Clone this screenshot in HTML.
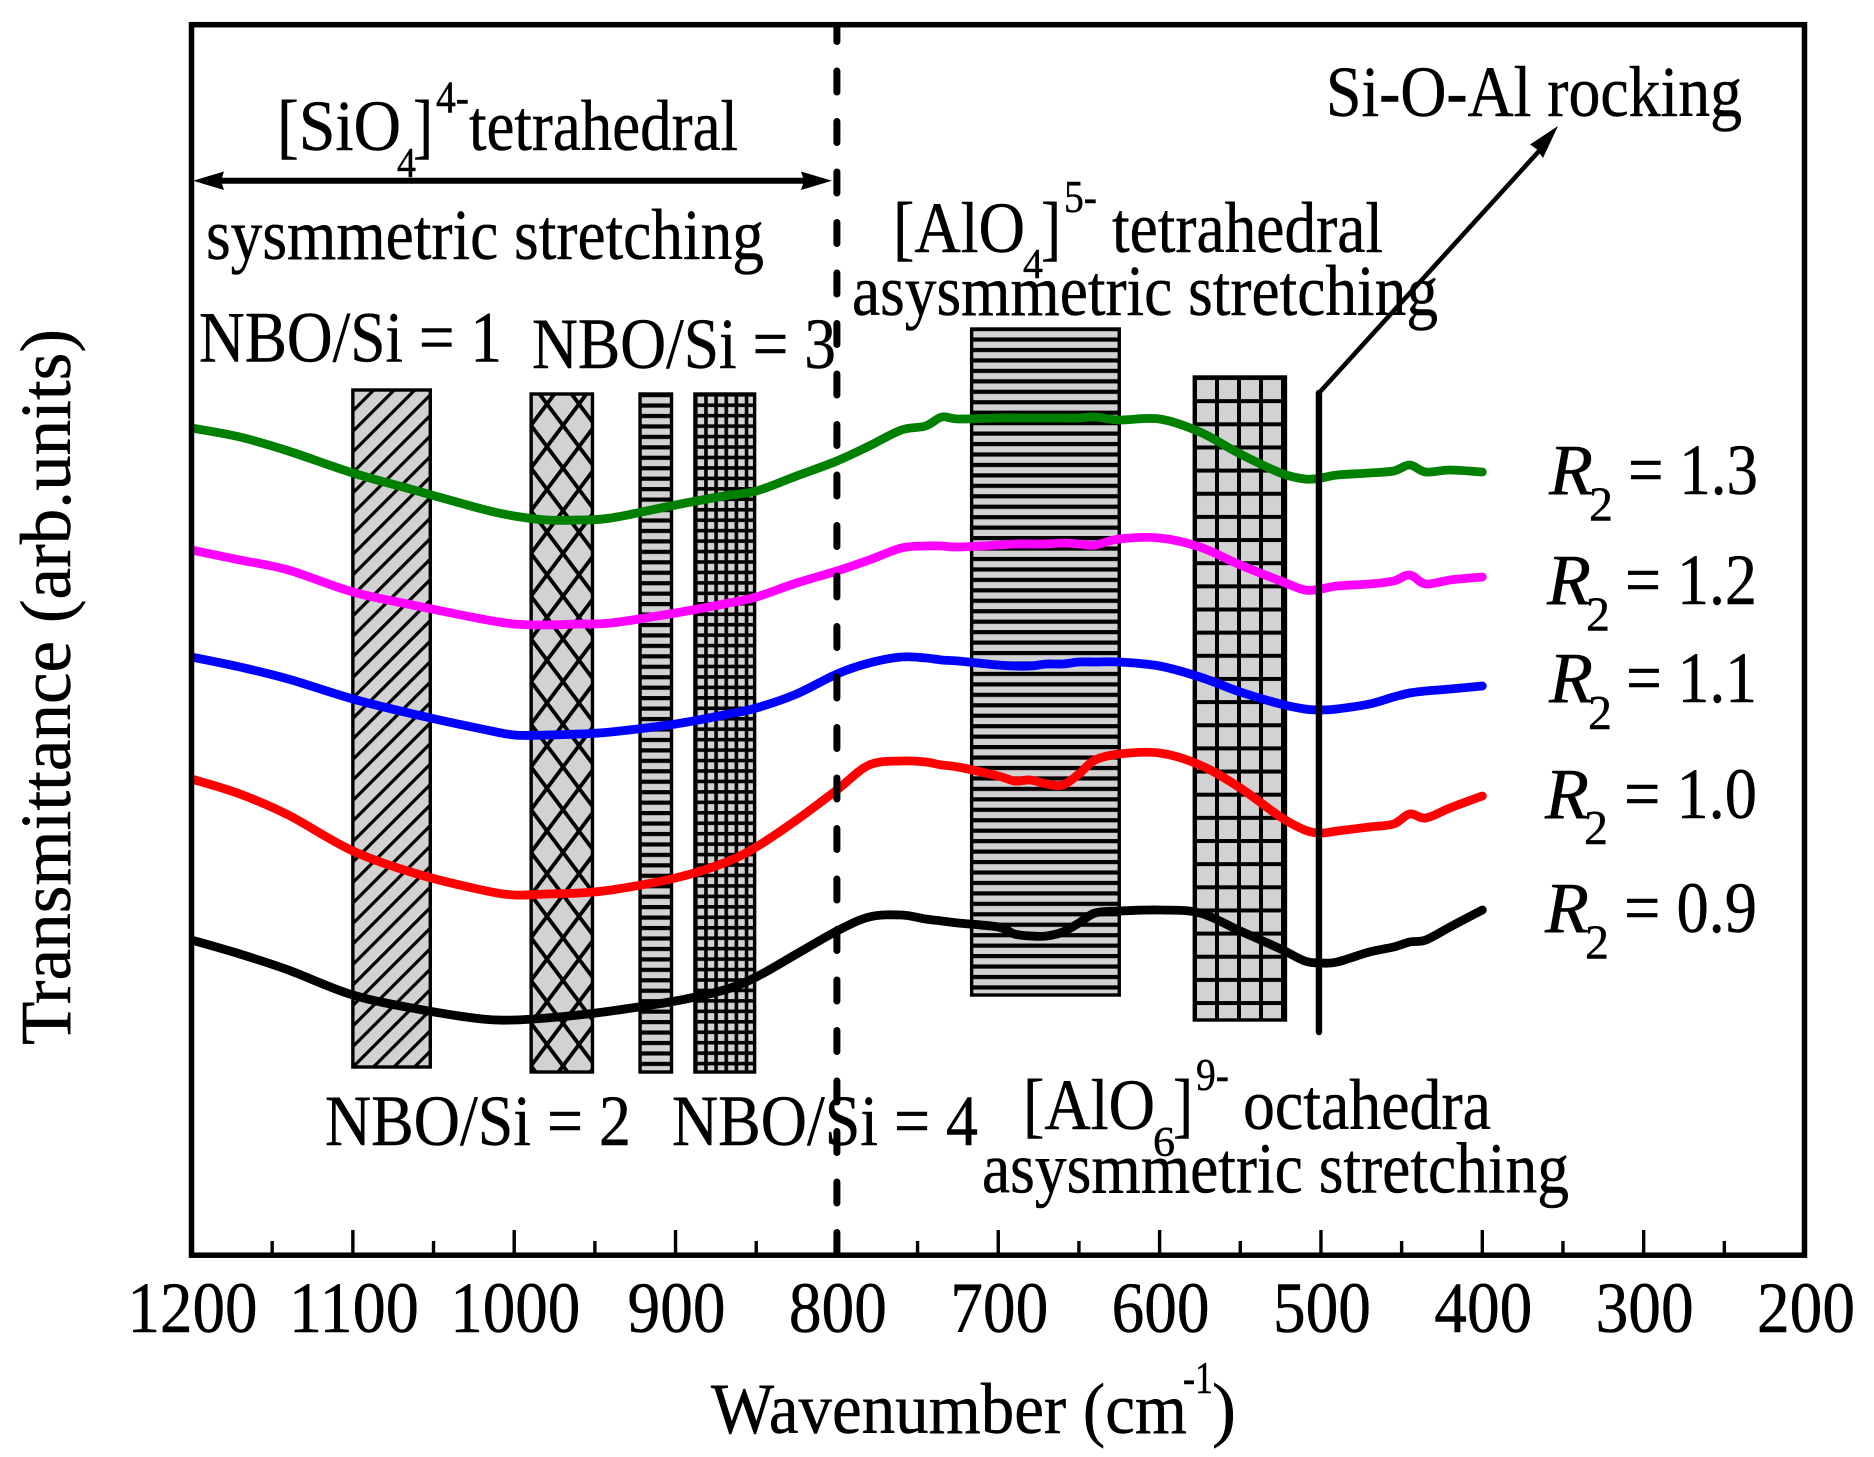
<!DOCTYPE html>
<html lang="en">
<head>
<meta charset="utf-8">
<title>FTIR transmittance spectra</title>
<style>
html,body{margin:0;padding:0;background:#fff;}
svg{display:block;}
text{font-family:"Liberation Serif","Times New Roman",serif;fill:#000;stroke:#000;stroke-width:0.45px;}
.t72{font-size:72px;}
.s40{font-size:42px;}
.s46{font-size:46px;}
.s48{font-size:49px;}
.it{font-style:italic;}
</style>
</head>
<body>
<svg id="chart" xmlns="http://www.w3.org/2000/svg" width="1874" height="1457" viewBox="0 0 1874 1457">
  <defs>
    <pattern id="p-diag" patternUnits="userSpaceOnUse" width="14.5" height="14.5" patternTransform="translate(352 389) rotate(45)">
      <rect width="14.5" height="14.5" fill="#d2d2d2"/>
      <rect x="0" y="0" width="3.2" height="14.5" fill="#000"/>
    </pattern>
    <pattern id="p-cross" patternUnits="userSpaceOnUse" x="547" y="404" width="32" height="42.7">
      <rect width="32" height="42.7" fill="#d2d2d2"/>
      <path d="M0 0L32 42.7M32 0L0 42.7" stroke="#000" stroke-width="3.8" fill="none"/>
    </pattern>
    <pattern id="p-hline-a" patternUnits="userSpaceOnUse" x="0" y="393" width="20" height="10.45">
      <rect width="20" height="10.45" fill="#d2d2d2"/>
      <rect y="0" width="20" height="4.2" fill="#000"/>
    </pattern>
    <pattern id="p-hline-b" patternUnits="userSpaceOnUse" x="0" y="327" width="20" height="10.45">
      <rect width="20" height="10.45" fill="#d2d2d2"/>
      <rect y="0" width="20" height="4.2" fill="#000"/>
    </pattern>
    <pattern id="p-fine" patternUnits="userSpaceOnUse" x="694" y="393" width="10.15" height="10.45">
      <rect width="10.15" height="10.45" fill="#d2d2d2"/>
      <rect width="10.15" height="3.6" fill="#000"/>
      <rect width="3.6" height="10.45" fill="#000"/>
    </pattern>
    <pattern id="p-grid" patternUnits="userSpaceOnUse" x="1193" y="376" width="22" height="23.15">
      <rect width="22" height="23.15" fill="#d2d2d2"/>
      <rect width="22" height="4" fill="#000"/>
      <rect width="4" height="23.15" fill="#000"/>
    </pattern>
    <clipPath id="plot-clip"><rect x="191.5" y="24.7" width="1613" height="1230.5"/></clipPath>
  </defs>

  <rect width="1874" height="1457" fill="#fff"/>
  <g id="bands"></g>
  <g id="curves" clip-path="url(#plot-clip)"></g>
  <g id="refs"></g>

  <polygon points="1558,126 1530,144.5 1536.5,149 1543,158" fill="#000"/>
  <g>
    <line x1="215" y1="180.7" x2="812" y2="180.7" stroke="#000" stroke-width="6"/>
    <polygon points="193,180.7 224,171.5 221,180.7 224,190" fill="#000"/>
    <polygon points="832,180.7 801,171.5 804,180.7 801,190" fill="#000"/>
  </g>

  <g>
    <text class="t72" x="277" y="150" textLength="124" lengthAdjust="spacingAndGlyphs">[SiO</text>
    <text class="s40" x="397" y="177" textLength="19" lengthAdjust="spacingAndGlyphs">4</text>
    <text class="t72" x="413" y="150" textLength="20" lengthAdjust="spacingAndGlyphs">]</text>
    <text class="s46" x="436" y="112.5" textLength="33" lengthAdjust="spacingAndGlyphs">4-</text>
    <text class="t72" x="469" y="150" textLength="269" lengthAdjust="spacingAndGlyphs">tetrahedral</text>
    <text class="t72" x="206" y="259" textLength="558" lengthAdjust="spacingAndGlyphs">sysmmetric stretching</text>
  </g>
  <text class="t72" x="199" y="361.5" textLength="303" lengthAdjust="spacingAndGlyphs">NBO/Si = 1</text>
  <text class="t72" x="532" y="368" textLength="304" lengthAdjust="spacingAndGlyphs">NBO/Si = 3</text>
  <text class="t72" x="325" y="1145" textLength="306" lengthAdjust="spacingAndGlyphs">NBO/Si = 2</text>
  <text class="t72" x="672" y="1145" textLength="306" lengthAdjust="spacingAndGlyphs">NBO/Si = 4</text>

  <g>
    <text class="t72" x="893" y="252" textLength="132" lengthAdjust="spacingAndGlyphs">[AlO</text>
    <text class="s40" x="1023" y="278" textLength="20" lengthAdjust="spacingAndGlyphs">4</text>
    <text class="t72" x="1041" y="252" textLength="20" lengthAdjust="spacingAndGlyphs">]</text>
    <text class="s46" x="1064" y="212" textLength="33" lengthAdjust="spacingAndGlyphs">5-</text>
    <text class="t72" x="1112" y="252" textLength="271" lengthAdjust="spacingAndGlyphs">tetrahedral</text>
    <text class="t72" x="852" y="315" textLength="586" lengthAdjust="spacingAndGlyphs">asysmmetric stretching</text>
  </g>
  <text class="t72" x="1326" y="116" textLength="416" lengthAdjust="spacingAndGlyphs">Si-O-Al rocking</text>
  <g>
    <text class="t72" x="1023" y="1129" textLength="132" lengthAdjust="spacingAndGlyphs">[AlO</text>
    <text class="s40" x="1153" y="1156" textLength="22" lengthAdjust="spacingAndGlyphs">6</text>
    <text class="t72" x="1173" y="1129" textLength="20" lengthAdjust="spacingAndGlyphs">]</text>
    <text class="s46" x="1196" y="1090" textLength="33" lengthAdjust="spacingAndGlyphs">9-</text>
    <text class="t72" x="1243" y="1129" textLength="248" lengthAdjust="spacingAndGlyphs">octahedra</text>
    <text class="t72" x="982" y="1192.5" textLength="587" lengthAdjust="spacingAndGlyphs">asysmmetric stretching</text>
  </g>

  <g>
    <text class="t72 it" x="1549" y="494" textLength="44" lengthAdjust="spacingAndGlyphs">R</text>
    <text class="s48" x="1589" y="520.5" textLength="24" lengthAdjust="spacingAndGlyphs">2</text>
    <text class="t72" x="1628" y="494" textLength="130" lengthAdjust="spacingAndGlyphs">= 1.3</text>
  </g>
  <g>
    <text class="t72 it" x="1547" y="604" textLength="44" lengthAdjust="spacingAndGlyphs">R</text>
    <text class="s48" x="1586" y="630.5" textLength="24" lengthAdjust="spacingAndGlyphs">2</text>
    <text class="t72" x="1625" y="604" textLength="132" lengthAdjust="spacingAndGlyphs">= 1.2</text>
  </g>
  <g>
    <text class="t72 it" x="1549" y="702" textLength="44" lengthAdjust="spacingAndGlyphs">R</text>
    <text class="s48" x="1588" y="729" textLength="24" lengthAdjust="spacingAndGlyphs">2</text>
    <text class="t72" x="1626" y="702" textLength="131" lengthAdjust="spacingAndGlyphs">= 1.1</text>
  </g>
  <g>
    <text class="t72 it" x="1545" y="818" textLength="44" lengthAdjust="spacingAndGlyphs">R</text>
    <text class="s48" x="1584" y="844" textLength="24" lengthAdjust="spacingAndGlyphs">2</text>
    <text class="t72" x="1624" y="818" textLength="133" lengthAdjust="spacingAndGlyphs">= 1.0</text>
  </g>
  <g>
    <text class="t72 it" x="1545" y="932" textLength="44" lengthAdjust="spacingAndGlyphs">R</text>
    <text class="s48" x="1585" y="958.5" textLength="24" lengthAdjust="spacingAndGlyphs">2</text>
    <text class="t72" x="1624" y="932" textLength="133" lengthAdjust="spacingAndGlyphs">= 0.9</text>
  </g>

  <g id="axis"></g>
  <rect x="191.5" y="24.7" width="1613" height="1230.5" fill="none" stroke="#000" stroke-width="5.5"/>

  <g>
    <text class="t72" x="711" y="1433" textLength="476" lengthAdjust="spacingAndGlyphs">Wavenumber (cm</text>
    <text class="s46" x="1183" y="1393" textLength="30" lengthAdjust="spacingAndGlyphs">-1</text>
    <text class="t72" x="1212" y="1433" textLength="24" lengthAdjust="spacingAndGlyphs">)</text>
  </g>
  <text class="t72" transform="translate(70 1045) rotate(-90)" x="0" y="0" textLength="716" lengthAdjust="spacingAndGlyphs">Transmittance (arb.units)</text>
</svg>

<script>
// ---- data ----
const wavenumbers = [1200,1170,1140,1100,1060,1020,1000,980,960,940,900,870,850,825,800,780,760,745,735,725,700,690,680,670,660,650,640,625,600,575,550,525,510,500,490,470,455,445,435,420,400];
const seriesR13 = [82.7,81.8,80.4,78.2,76.4,74.6,73.9,73.5,73.5,73.7,75.0,75.9,76.4,77.9,79.4,80.9,82.5,82.9,83.8,83.6,83.7,83.7,83.7,83.7,83.7,83.7,83.8,83.5,83.6,82.3,80.1,78.2,77.6,77.7,78.0,78.2,78.4,79.0,78.3,78.5,78.3];
const seriesR12 = [70.5,69.5,68.5,66.3,64.9,63.6,63.1,63.0,63.1,63.2,64.2,65.1,65.8,67.2,68.4,69.5,70.7,70.9,70.9,70.8,71.0,71.1,71.1,71.1,71.2,71.1,71.0,71.6,71.7,70.8,69.0,67.4,66.5,66.6,66.9,67.1,67.4,68.0,67.1,67.5,67.8];
const seriesR11 = [59.8,58.8,57.6,55.6,54.0,52.6,52.0,52.0,52.1,52.3,53.1,54.0,54.7,56.1,58.1,59.2,59.8,59.7,59.5,59.4,59.0,58.9,58.9,59.1,59.1,59.3,59.3,59.3,58.9,57.8,56.3,55.1,54.6,54.5,54.6,55.1,55.8,56.2,56.4,56.6,56.9];
const seriesR10 = [47.6,46.1,44.0,40.4,38.1,36.5,36.0,36.1,36.2,36.5,37.7,39.2,40.8,43.5,46.5,49.0,49.4,49.3,49.0,48.8,47.9,47.4,47.5,47.1,47.0,48.1,49.5,50.1,50.2,49.0,46.7,43.8,42.5,42.2,42.4,42.8,43.1,44.1,43.7,44.7,45.9];
const seriesR09 = [31.5,30.1,28.5,26.0,24.6,23.6,23.5,23.7,24.0,24.4,25.4,26.5,27.8,30.1,32.4,33.8,34.0,33.6,33.4,33.2,32.8,32.1,31.9,31.9,32.3,33.2,34.2,34.4,34.5,34.2,32.4,30.6,29.4,29.2,29.3,30.3,30.8,31.3,31.5,32.8,34.5];
const seriesNames = ["r2-0-9","r2-1-0","r2-1-1","r2-1-2","r2-1-3"];
const seriesColors = ["#000000","#ff0000","#0000ff","#ff00ff","#008000"];
const majorTicks = [1200,1100,1000,900,800,700,600,500,400,300,200];
const minorTicks = [1150,1050,950,850,750,650,550,450,350,250];
const tickLabels = ["1200","1100","1000","900","800","700","600","500","400","300","200"];
// assignment bands: high wavenumber, low wavenumber, top and bottom on the transmittance scale
const bandNames = ["nbo-si-1-band","nbo-si-2-band","nbo-si-3-band","nbo-si-4-band","alo4-band","alo6-band"];
const bandHigh = [1100,989.5,922,888,716.5,578.5];
const bandLow = [1052,951.5,902.5,851,625,522];
const bandTop = [86.5,86.1,86.1,86.1,92.6,87.8];
const bandBottom = [18.8,18.3,18.3,18.3,26.0,23.5];
const bandFills = ["p-diag","p-cross","p-hline-a","p-fine","p-hline-b","p-grid"];
const dividerWavenumber = 800;
const rockingWavenumber = 500;

// ---- axis functions ----
const NS = "http://www.w3.org/2000/svg";
const xOf = w => 191.5 + (1200 - w) * 1.6135;
const yOf = t => 1255 - t * 10;

function smoothPath(xs, ys) {
  let d = "M" + xs[0].toFixed(1) + " " + ys[0].toFixed(1);
  for (let i = 0; i < xs.length - 1; i++) {
    const a = Math.max(i - 1, 0), b = Math.min(i + 2, xs.length - 1);
    const c1x = xs[i] + (xs[i + 1] - xs[a]) / 6, c1y = ys[i] + (ys[i + 1] - ys[a]) / 6;
    const c2x = xs[i + 1] - (xs[b] - xs[i]) / 6, c2y = ys[i + 1] - (ys[b] - ys[i]) / 6;
    d += "C" + c1x.toFixed(1) + " " + c1y.toFixed(1) + " " + c2x.toFixed(1) + " " + c2y.toFixed(1) + " " + xs[i + 1].toFixed(1) + " " + ys[i + 1].toFixed(1);
  }
  return d;
}

// bands
const bandsG = document.getElementById("bands");
bandNames.forEach((name, i) => {
  const el = document.createElementNS(NS, "rect");
  
  
  el.setAttribute("x", xOf(bandHigh[i]));
  el.setAttribute("y", yOf(bandTop[i]));
  el.setAttribute("width", xOf(bandLow[i]) - xOf(bandHigh[i]));
  el.setAttribute("height", yOf(bandBottom[i]) - yOf(bandTop[i]));
  el.setAttribute("fill", "url(#" + bandFills[i] + ")");
  el.setAttribute("stroke", "#000");
  el.setAttribute("stroke-width", "3.4");
  bandsG.appendChild(el);
});

// series
const allSeries = [seriesR09, seriesR10, seriesR11, seriesR12, seriesR13];
const curvesG = document.getElementById("curves");
allSeries.forEach((vals, i) => {
  const el = document.createElementNS(NS, "path");
  
  
  el.setAttribute("d", smoothPath(wavenumbers.map(xOf), vals.map(yOf)));
  el.setAttribute("fill", "none");
  el.setAttribute("stroke", seriesColors[i]);
  el.setAttribute("stroke-width", "8.8");
  el.setAttribute("stroke-linecap", "round");
  el.setAttribute("stroke-linejoin", "round");
  curvesG.appendChild(el);
});

// reference lines
const refsG = document.getElementById("refs");
const divider = document.createElementNS(NS, "line");


divider.setAttribute("x1", xOf(dividerWavenumber));
divider.setAttribute("x2", xOf(dividerWavenumber));
divider.setAttribute("y1", "27");
divider.setAttribute("y2", "1253");
divider.setAttribute("stroke", "#000");
divider.setAttribute("stroke-width", "7");
divider.setAttribute("stroke-linecap", "round");
divider.setAttribute("stroke-dasharray", "21 29.5");
divider.setAttribute("stroke-dashoffset", "6.5");
refsG.appendChild(divider);

const rockX = xOf(rockingWavenumber) - 2;
const rocking = document.createElementNS(NS, "polyline");


rocking.setAttribute("points", rockX + ",1032 " + rockX + ",393");
rocking.setAttribute("fill", "none");
rocking.setAttribute("stroke", "#000");
rocking.setAttribute("stroke-width", "6.4");
rocking.setAttribute("stroke-linecap", "round");
refsG.appendChild(rocking);

const pointer = document.createElementNS(NS, "line");


pointer.setAttribute("x1", rockX);
pointer.setAttribute("y1", "393");
pointer.setAttribute("x2", "1540");
pointer.setAttribute("y2", "150");
pointer.setAttribute("stroke", "#000");
pointer.setAttribute("stroke-width", "4.6");
refsG.appendChild(pointer);

// axis ticks and labels
const axisG = document.getElementById("axis");
majorTicks.forEach((w, i) => {
  const tick = document.createElementNS(NS, "line");
  
  
  tick.setAttribute("x1", xOf(w));
  tick.setAttribute("x2", xOf(w));
  tick.setAttribute("y1", "1230");
  tick.setAttribute("y2", "1255");
  tick.setAttribute("stroke", "#000");
  tick.setAttribute("stroke-width", "3.4");
  axisG.appendChild(tick);

  const label = document.createElementNS(NS, "text");
  
  
  label.setAttribute("class", "t72");
  label.setAttribute("text-anchor", "middle");
  label.setAttribute("x", xOf(w) + 1);
  label.setAttribute("y", "1332");
  label.setAttribute("textLength", tickLabels[i].length === 4 ? "130" : "98");
  label.setAttribute("lengthAdjust", "spacingAndGlyphs");
  label.textContent = tickLabels[i];
  axisG.appendChild(label);
});
minorTicks.forEach(w => {
  const tick = document.createElementNS(NS, "line");
  
  
  tick.setAttribute("x1", xOf(w));
  tick.setAttribute("x2", xOf(w));
  tick.setAttribute("y1", "1241");
  tick.setAttribute("y2", "1255");
  tick.setAttribute("stroke", "#000");
  tick.setAttribute("stroke-width", "3.4");
  axisG.appendChild(tick);
});
</script>
</body>
</html>
